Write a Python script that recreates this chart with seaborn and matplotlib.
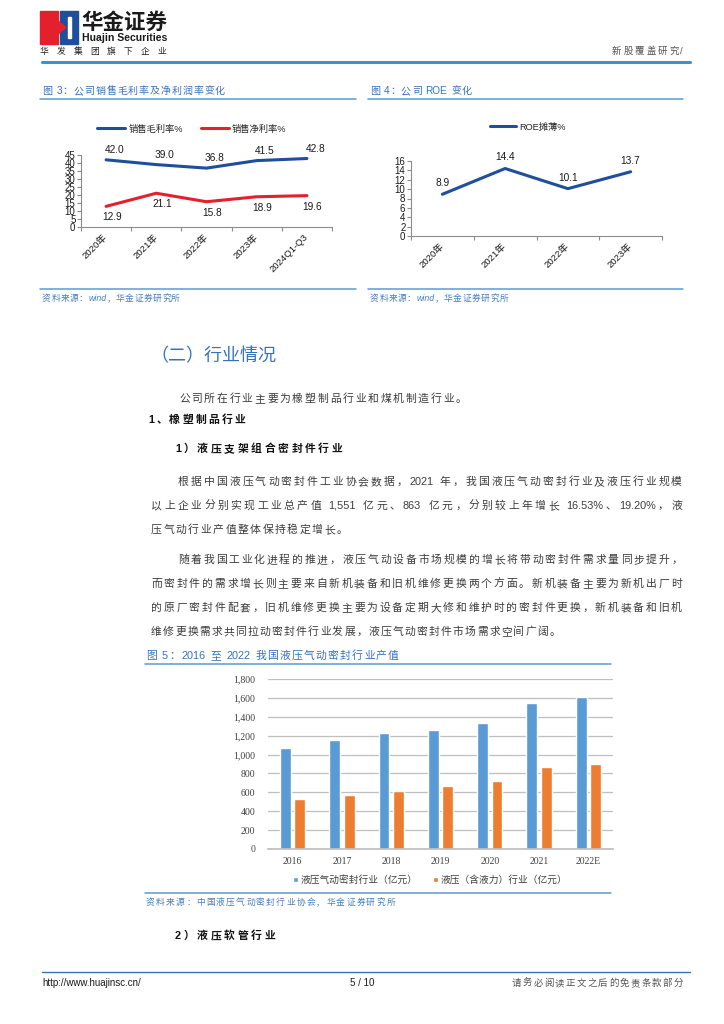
import re
import numpy as np
import pandas as pd
import matplotlib
matplotlib.use('Agg')
import matplotlib.pyplot as plt
import seaborn as sns
from matplotlib.patches import Rectangle, Polygon
from matplotlib.lines import Line2D

# 图3 公司销售毛利率及净利润率
years3 = ['2020年', '2021年', '2022年', '2023年', '2024Q1-Q3']
gross_margin = [42.0, 39.0, 36.8, 41.5, 42.8]
net_margin = [12.9, 21.1, 15.8, 18.9, 19.6]

# 图4 ROE
years4 = ['2020年', '2021年', '2022年', '2023年']
roe = [8.9, 14.4, 10.1, 13.7]

# 图5 行业产值（亿元）
years5 = ['2016', '2017', '2018', '2019', '2020', '2021', '2022E']
seal_output = [1068, 1153, 1231, 1263, 1331, 1551, 1613]
hydraulic_output = [534, 576, 619, 668, 724, 863, 905]
series5 = ['液压气动密封行业（亿元）', '液压（含液力）行业（亿元）']

W, H = 724, 1024
sns.set_theme(style='white')
SANS = ['Liberation Sans', 'Noto Sans CJK SC', 'DejaVu Sans']
SERIF = ['Liberation Serif', 'Noto Sans CJK SC', 'DejaVu Sans']
plt.rcParams['font.family'] = SANS

BLUE_T = '#3572bd'
LINE_C = '#5b9bd5'
SRC_C = '#4a7ebb'

fig = plt.figure(figsize=(W / 100, H / 100), dpi=100)
renderer = fig.canvas.get_renderer()


def fx(x):
    return x / W


def fy(y):
    return 1 - y / H


def put(x, y, s, **kw):
    kw.setdefault('va', 'center')
    return fig.text(fx(x), fy(y), s, **kw)


def hline(x0, x1, y, **kw):
    fig.add_artist(Line2D([fx(x0), fx(x1)], [fy(y), fy(y)], **kw))


TOK = re.compile(r'[A-Za-z0-9.,%:/\-]+| |.')


def textline(x0, y, s, x1=None, gap=1.5, **kw):
    # lay out token by token on a common baseline so lines can be justified;
    # latin runs and CJK glyphs each get a single font (no fallback)
    fs = kw.get('fontsize', 7.8)
    base = fy(round(y + 0.36 * fs * 100 / 72))
    toks = TOK.findall(s)
    arts, widths = [], []
    for t in toks:
        if t == ' ':
            arts.append(None)
            widths.append(2.5)
            continue
        fam = ['Liberation Sans'] if t.isascii() else ['Noto Sans CJK SC']
        a = fig.text(0, base, t, va='baseline', family=fam, **kw)
        widths.append(a.get_window_extent(renderer).width)
        arts.append(a)
    if x1 is not None and len(toks) > 1:
        gap = (x1 - x0 - sum(widths)) / (len(toks) - 1)
    x = x0
    for a, w in zip(arts, widths):
        if a is not None:
            a.set_x(fx(x))
        x += w + gap


# ---- header ----
fig.add_artist(Rectangle((fx(40), fy(44)), 18 / W, 33 / H, color='#e3202c', transform=fig.transFigure))
fig.add_artist(Rectangle((fx(60), fy(44)), 18 / W, 33 / H, color='#1d4f9c', transform=fig.transFigure))
fig.add_artist(Polygon([(fx(58), fy(21)), (fx(66), fy(27.5)), (fx(58), fy(34))], closed=True,
                       color='#e3202c', transform=fig.transFigure))
fig.add_artist(Rectangle((fx(68), fy(38)), 2.5 / W, 21 / H, color='white', transform=fig.transFigure))
put(81, 22, '华金证券', fontsize=15.5, fontweight='bold', color='#1a1a1a', family=['Noto Sans CJK SC'])
put(82, 38, 'Huajin Securities', fontsize=7.6, fontweight='bold', color='#1a1a1a')
textline(40, 51, '华发集团旗下企业', x1=166, fontsize=6.3, color='#222222')
textline(612, 51, '新股覆盖研究/', x1=683, fontsize=6.8, color='#555555')
hline(42, 690, 62, color='#3d8fcf', lw=2.2)

# ---- chart titles ----
TITLE = dict(fontsize=7.2, color=BLUE_T)
SRC = dict(fontsize=6.3, color=SRC_C, style='italic')
textline(42, 90, '图 3：公司销售毛利率及净利润率变化', x1=225, **TITLE)
textline(370, 90, '图 4：公司 ROE 变化', x1=472, **TITLE)
hline(40, 356, 99, color=LINE_C, lw=1.1)
hline(368, 683, 99, color=LINE_C, lw=1.1)
hline(40, 356, 289, color=LINE_C, lw=1.1)
hline(368, 683, 289, color=LINE_C, lw=1.1)
textline(42, 298, '资料来源：wind，华金证券研究所', x1=180, **SRC)
textline(370, 298, '资料来源：wind，华金证券研究所', x1=508, **SRC)


def style_line_axes(ax, n, labels):
    ax.set_xlim(-0.5, n - 0.5)
    for s in ['top', 'right']:
        ax.spines[s].set_visible(False)
    for s in ['left', 'bottom']:
        ax.spines[s].set_color('#8c8c8c')
        ax.spines[s].set_linewidth(0.8)
    ax.set_xticks(np.arange(-0.5, n, 1))
    ax.set_xticklabels([])
    ax.set_xticks(range(n), minor=True)
    ax.set_xticklabels(labels, minor=True, rotation=45, ha='right', va='center',
                       rotation_mode='anchor', fontsize=6.8, color='#1a1a1a')
    ax.tick_params(axis='x', which='major', direction='out', length=3, color='#8c8c8c', width=0.8, bottom=True)
    ax.tick_params(axis='x', which='minor', length=0, pad=6)
    ax.tick_params(axis='y', direction='out', length=3, color='#8c8c8c', width=0.8, left=True,
                   labelsize=7, pad=1, labelcolor='#1a1a1a')
    ax.set_xlabel('')
    ax.set_ylabel('')


# ---- chart 3 ----
ax3 = fig.add_axes([fx(81), fy(227), (332 - 81) / W, (227 - 155) / H])
df3 = pd.DataFrame({'year': years3, 'gross': gross_margin, 'net': net_margin})
sns.lineplot(data=df3, x='year', y='gross', ax=ax3, color='#1f4e9c', lw=2.2, sort=False, label='销售毛利率%')
sns.lineplot(data=df3, x='year', y='net', ax=ax3, color='#e3202c', lw=2.2, sort=False, label='销售净利率%')
ax3.set_ylim(0, 45)
ax3.set_yticks(range(0, 46, 5))
style_line_axes(ax3, len(years3), years3)
for i, v in enumerate(gross_margin):
    ax3.annotate(f'{v:.1f}', (i, v), xytext=(6, 7), textcoords='offset points',
                 ha='center', va='center', fontsize=7.3, color='#1a1a1a')
for i, v in enumerate(net_margin):
    ax3.annotate(f'{v:.1f}', (i, v), xytext=(4, -8), textcoords='offset points',
                 ha='center', va='center', fontsize=7.3, color='#1a1a1a')
ax3.legend(loc='center', bbox_to_anchor=(fx(192), fy(129)), bbox_transform=fig.transFigure,
           ncol=2, frameon=False, fontsize=6.7, handlelength=3.0, handletextpad=0.3,
           columnspacing=2.0, borderpad=0)

# ---- chart 4 ----
ax4 = fig.add_axes([fx(411), fy(236), (662 - 411) / W, (236 - 161) / H])
df4 = pd.DataFrame({'year': years4, 'roe': roe})
sns.lineplot(data=df4, x='year', y='roe', ax=ax4, color='#1f4e9c', lw=2.2, sort=False, label='ROE摊薄%')
ax4.set_ylim(0, 16)
ax4.set_yticks(range(0, 17, 2))
style_line_axes(ax4, len(years4), years4)
for i, v in enumerate(roe):
    ax4.annotate(f'{v:.1f}', (i, v), xytext=(0, 8), textcoords='offset points',
                 ha='center', va='center', fontsize=7.3, color='#1a1a1a')
ax4.legend(loc='center', bbox_to_anchor=(fx(528), fy(127)), bbox_transform=fig.transFigure,
           frameon=False, fontsize=6.7, handlelength=2.8, handletextpad=0.3, borderpad=0)

# ---- body text ----
BODY = dict(fontsize=7.8, color='#3c3c3c')
BOLD = dict(fontsize=7.8, color='#111111', fontweight='bold')
put(150, 356, '（二）行业情况', fontsize=13, color=BLUE_T, family=['Noto Sans CJK SC'])
textline(179, 398, '公司所在行业主要为橡塑制品行业和煤机制造行业。', gap=1.7, **BODY)
textline(148, 419, '1、橡塑制品行业', gap=2.2, **BOLD)
textline(175, 448, '1）液压支架组合密封件行业', gap=2.6, **BOLD)
R = 682
textline(178, 481, '根据中国液压气动密封件工业协会数据，2021 年，我国液压气动密封行业及液压行业规模', x1=R, **BODY)
textline(151, 505, '以上企业分别实现工业总产值 1,551 亿元、863 亿元，分别较上年增长 16.53%、19.20%，液', x1=R, **BODY)
textline(151, 529, '压气动行业产值整体保持稳定增长。', gap=1.5, **BODY)
textline(178, 559, '随着我国工业化进程的推进，液压气动设备市场规模的增长将带动密封件需求量同步提升，', x1=R, **BODY)
textline(151, 583, '而密封件的需求增长则主要来自新机装备和旧机维修更换两个方面。新机装备主要为新机出厂时', x1=R, **BODY)
textline(151, 607, '的原厂密封件配套，旧机维修更换主要为设备定期大修和维护时的密封件更换，新机装备和旧机', x1=R, **BODY)
textline(151, 631, '维修更换需求共同拉动密封件行业发展，液压气动密封件市场需求空间广阔。', gap=1.2, **BODY)

# ---- chart 5 ----
textline(146, 655, '图 5：2016 至 2022 我国液压气动密封行业产值', x1=399, fontsize=7.8, color=BLUE_T)
hline(145, 611, 664, color=LINE_C, lw=1.1)
hline(145, 611, 893, color=LINE_C, lw=1.1)
textline(146, 902, '资料来源：中国液压气动密封行业协会，华金证券研究所', x1=395, **SRC)

ax5 = fig.add_axes([fx(268), fy(849), (613 - 268) / W, (849 - 679) / H])
df5 = pd.DataFrame({
    'year': years5 * 2,
    'value': seal_output + hydraulic_output,
    'series': [series5[0]] * len(years5) + [series5[1]] * len(years5),
})
sns.barplot(data=df5, x='year', y='value', hue='series', palette=['#5b9bd5', '#ed7d31'],
            width=0.58, gap=0.24, saturation=1, ax=ax5)
ax5.set_ylim(0, 1800)
ax5.set_yticks(range(0, 1801, 200))
ax5.set_yticklabels([f'{v:,}' for v in range(0, 1801, 200)], family=SERIF, fontsize=7, color='#404040')
for lab in ax5.get_xticklabels():
    lab.set_family(SERIF)
ax5.tick_params(axis='x', length=0, labelsize=7, labelcolor='#404040', pad=6)
ax5.tick_params(axis='y', length=0, pad=9)
ax5.grid(axis='y', color='#bfbfbf', lw=0.9)
ax5.set_axisbelow(True)
for s in ['top', 'right', 'left']:
    ax5.spines[s].set_visible(False)
ax5.spines['bottom'].set_color('#bfbfbf')
ax5.set_xlabel('')
ax5.set_ylabel('')
sns.move_legend(ax5, 'center', bbox_to_anchor=(fx(430), fy(880)), bbox_transform=fig.transFigure,
                ncol=2, frameon=False, title=None, fontsize=7, handlelength=0.55, handleheight=0.55,
                handletextpad=0.2, columnspacing=1.6, borderpad=0)
for t in ax5.get_legend().get_texts():
    t.set_color('#404040')

textline(175, 935, '2）液压软管行业', gap=2.6, **BOLD)

# ---- footer ----
hline(42, 690, 972, color='#2e75b6', lw=1.0)
put(42, 983, 'http://www.huajinsc.cn/', fontsize=7, color='#1a1a1a')
put(362, 983, '5 / 10', fontsize=7, color='#1a1a1a', ha='center')
textline(512, 983, '请务必阅读正文之后的免责条款部分', x1=683, fontsize=6.8, color='#555555')

fig.savefig('out.png', dpi=100)
